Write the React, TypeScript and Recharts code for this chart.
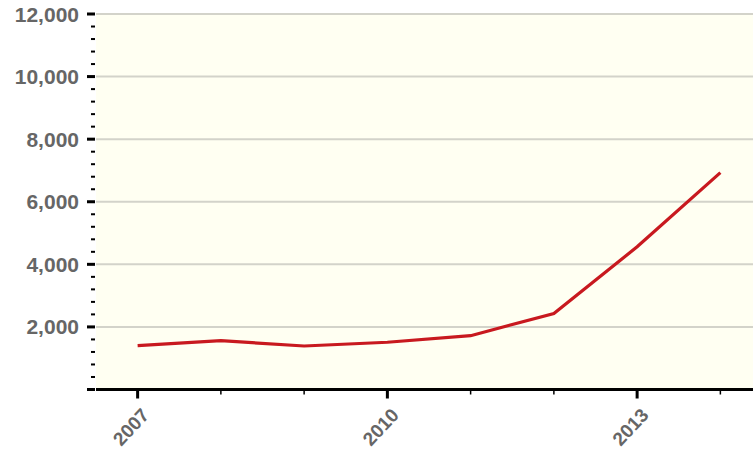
import { LineChart, Line, XAxis, YAxis, ReferenceLine, ReferenceArea } from "recharts";

const years = [2007, 2008, 2009, 2010, 2011, 2012, 2013, 2014];
const values = [1400, 1560, 1390, 1510, 1720, 2430, 4560, 6930];
const labelledYears = [2007, 2010, 2013];
const gridValues = [2000, 4000, 6000, 8000, 10000, 12000];
const yTicks = Array.from({ length: 31 }, (_, i) => i * 400);

const data = years.map((year, i) => ({ year, value: values[i] }));

const FONT = "'Liberation Sans', Arial, sans-serif";
const TEXT = "#666";

function YTick(props: any) {
  const { x, y, payload } = props;
  const v = payload.value as number;
  const major = v % 2000 === 0;
  return (
    <g>
      {major ? (
        <rect x={x - 9} y={y - 1.5} width={8} height={3} fill="#000" />
      ) : (
        <rect x={x - 5} y={y - 1} width={4} height={2} fill="#000" />
      )}
      {major && v > 0 && (
        <text
          x={x - 17}
          y={y + 7.5}
          textAnchor="end"
          fontFamily={FONT}
          fontWeight="bold"
          fontSize={21}
          fill={TEXT}
        >
          {v.toLocaleString("en-US")}
        </text>
      )}
    </g>
  );
}

function XTick(props: any) {
  const { x, y, payload } = props;
  const v = payload.value as number;
  const major = labelledYears.includes(v);
  const tx = x + 12.5;
  const ty = y + 26.5;
  return (
    <g>
      {major ? (
        <line x1={x} x2={x} y1={y} y2={y + 9} stroke="#000" strokeWidth={3} />
      ) : (
        <line x1={x} x2={x} y1={y} y2={y + 5} stroke="#000" strokeWidth={1.5} />
      )}
      {major && (
        <text
          x={tx}
          y={ty}
          textAnchor="end"
          transform={`rotate(-47 ${tx} ${ty})`}
          fontFamily={FONT}
          fontWeight="bold"
          fontSize={19}
          fill={TEXT}
        >
          {v}
        </text>
      )}
    </g>
  );
}

export default function App() {
  return (
    <div
      style={{
        position: "absolute",
        left: 0,
        top: 0,
        width: 753,
        height: 458,
        overflow: "hidden",
        background: "#fff",
      }}
    >
      <LineChart
        width={762}
        height={458}
        data={data}
        margin={{ top: 14, right: 0, bottom: 0, left: 0 }}
      >
        <ReferenceArea
          x1={2006.5}
          x2={2014.5}
          y1={0}
          y2={12000}
          fill="#fffff2"
          fillOpacity={1}
          stroke="none"
        />
        {gridValues.map((g) => (
          <ReferenceLine key={g} y={g} stroke="#d3d3ca" strokeWidth={2} />
        ))}
        <XAxis
          dataKey="year"
          type="number"
          domain={[2006.5, 2014.5]}
          ticks={years}
          interval={0}
          height={68.5}
          tickSize={0}
          tickMargin={0}
          tick={<XTick />}
          axisLine={{ stroke: "#000", strokeWidth: 3 }}
          tickLine={false}
        />
        <YAxis
          type="number"
          domain={[0, 12000]}
          ticks={yTicks}
          interval={0}
          width={96}
          tickSize={0}
          tickMargin={0}
          tick={<YTick />}
          axisLine={false}
          tickLine={false}
        />
        <Line
          type="linear"
          dataKey="value"
          stroke="#c8191f"
          strokeWidth={3.2}
          dot={false}
          isAnimationActive={false}
        />
      </LineChart>
    </div>
  );
}
